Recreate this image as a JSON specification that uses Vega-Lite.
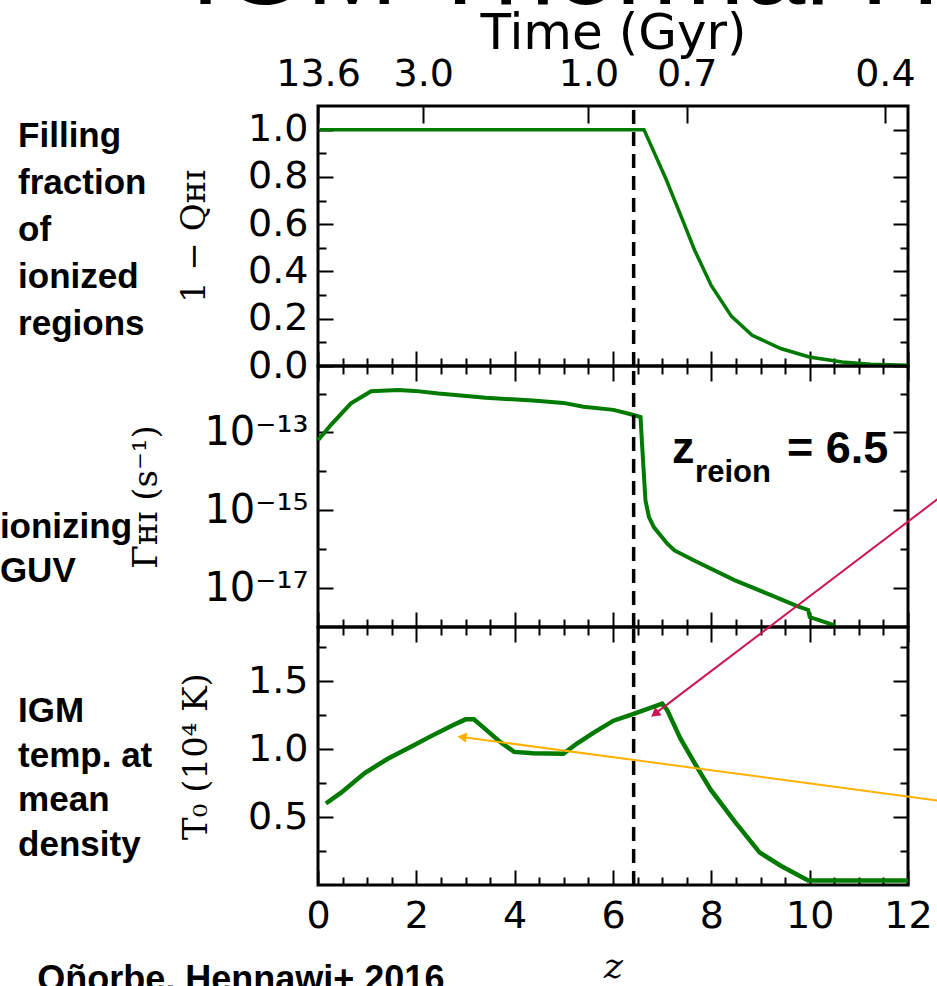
{
  "$schema": "https://vega.github.io/schema/vega-lite/v6.json",
  "autosize": {"type": "none"},
  "padding": {"left": 318, "top": 106, "right": 619, "bottom": 880},
  "background": "white",
  "spacing": 0,
  "bounds": "flush",
  "config": {
    "view": {"stroke": "black", "strokeWidth": 3},
    "axis": {"grid": false, "domain": false, "labelFont": "DejaVu Sans", "labelFontSize": 38, "labelColor": "black", "tickColor": "black", "tickWidth": 2, "titleColor": "black", "labelFlush": false, "labelOverlap": false, "titleFontWeight": "normal"}
  },
  "datasets": {
    "q": [{"z": 0.04, "v": 1.0}, {"z": 6.63, "v": 1.0}, {"z": 7.08, "v": 0.79}, {"z": 7.41, "v": 0.62}, {"z": 7.66, "v": 0.49}, {"z": 8.0, "v": 0.34}, {"z": 8.41, "v": 0.21}, {"z": 8.83, "v": 0.13}, {"z": 9.41, "v": 0.074}, {"z": 9.99, "v": 0.038}, {"z": 10.66, "v": 0.017}, {"z": 11.24, "v": 0.007}, {"z": 12.0, "v": 0.003}],
    "gamma": [{"z": 0.0, "v": 6.3e-14}, {"z": 0.26, "v": 1.55e-13}, {"z": 0.67, "v": 5.6e-13}, {"z": 1.08, "v": 1.15e-12}, {"z": 1.63, "v": 1.23e-12}, {"z": 1.97, "v": 1.17e-12}, {"z": 2.45, "v": 1.0e-12}, {"z": 3.41, "v": 7.8e-13}, {"z": 4.37, "v": 6.6e-13}, {"z": 4.99, "v": 5.75e-13}, {"z": 5.4, "v": 4.6e-13}, {"z": 6.01, "v": 3.8e-13}, {"z": 6.42, "v": 2.8e-13}, {"z": 6.56, "v": 2.5e-13}, {"z": 6.59, "v": 5.2e-14}, {"z": 6.66, "v": 1.8e-15}, {"z": 6.73, "v": 6.8e-16}, {"z": 6.83, "v": 3.7e-16}, {"z": 7.1, "v": 1.4e-16}, {"z": 7.25, "v": 9.3e-17}, {"z": 7.65, "v": 5.1e-17}, {"z": 8.47, "v": 1.6e-17}, {"z": 9.15, "v": 7.1e-18}, {"z": 9.76, "v": 3.4e-18}, {"z": 9.97, "v": 2.75e-18}, {"z": 10.0, "v": 1.8e-18}, {"z": 10.51, "v": 1.1e-18}],
    "t0": [{"z": 0.16, "v": 0.6}, {"z": 0.47, "v": 0.68}, {"z": 0.95, "v": 0.825}, {"z": 1.42, "v": 0.93}, {"z": 1.9, "v": 1.02}, {"z": 2.32, "v": 1.1}, {"z": 2.73, "v": 1.175}, {"z": 3.0, "v": 1.22}, {"z": 3.17, "v": 1.22}, {"z": 3.41, "v": 1.146}, {"z": 3.68, "v": 1.06}, {"z": 3.99, "v": 0.98}, {"z": 4.37, "v": 0.97}, {"z": 4.99, "v": 0.966}, {"z": 5.26, "v": 1.04}, {"z": 5.6, "v": 1.12}, {"z": 6.01, "v": 1.21}, {"z": 6.42, "v": 1.26}, {"z": 7.0, "v": 1.335}, {"z": 7.1, "v": 1.29}, {"z": 7.37, "v": 1.08}, {"z": 7.72, "v": 0.86}, {"z": 7.99, "v": 0.7}, {"z": 8.47, "v": 0.47}, {"z": 8.98, "v": 0.24}, {"z": 9.42, "v": 0.14}, {"z": 9.97, "v": 0.034}, {"z": 12.0, "v": 0.034}],
    "zreion": [{"z": 6.42}],
    "note1": [{"z": -6.1, "v": 0.926, "label": "Filling\nfraction\nof\nionized\nregions"}],
    "headline": [{"z": -2.6, "v": 1.53, "label": "IGM Thermal History"}],
    "note2": [{"z": -6.47, "v": 1.9e-16, "label": "ionizing\nGUV"}],
    "zlabel": [{"z": 7.2, "v": 1.62e-14, "label": "z"}, {"z": 9.54, "v": 1.62e-14, "label": "= 6.5"}],
    "zsub": [{"z": 7.67, "v": 5.2e-15, "label": "reion"}],
    "note3": [{"z": -6.1, "v": 1.2, "label": "IGM\ntemp. at\nmean\ndensity"}],
    "arrows": [{"arrow": "red", "z": 12.85, "v": 2.91, "z2": 6.85, "v2": 1.26}, {"arrow": "orange", "z": 12.85, "v": 0.61, "z2": 2.93, "v2": 1.09}],
    "credit": [{"z": -5.71, "v": -0.78, "label": "Oñorbe, Hennawi+ 2016"}]
  },
  "vconcat": [
    {
      "width": 590,
      "height": 260,
      "resolve": {"axis": {"x": "independent", "y": "independent"}},
      "layer": [
        {
          "data": {"name": "q"},
          "mark": {"type": "line", "color": "#007a00", "strokeWidth": 3.5},
          "encoding": {
            "x": {"field": "z", "type": "quantitative", "scale": {"domain": [0, 12], "nice": false, "zero": false}, "axis": {"orient": "bottom", "values": [0, 2, 4, 6, 8, 10, 12], "tickSize": -15, "labels": false, "title": null}},
            "y": {"field": "v", "type": "quantitative", "scale": {"domain": [0, 1.1], "nice": false, "zero": false}, "axis": {"orient": "left", "values": [0, 0.2, 0.4, 0.6, 0.8, 1.0], "tickSize": -15, "format": ".1f", "labelPadding": 25, "title": "1 − Qʜɪ", "titleFont": "DejaVu Serif", "titleFontSize": 34, "titlePadding": 36}}
          }
        },
        {
          "data": {"name": "zreion"},
          "mark": {"type": "rule", "color": "black", "strokeWidth": 3.5, "strokeDash": [14, 8]},
          "encoding": {
            "x": {"field": "z", "type": "quantitative", "scale": {"domain": [0, 12], "nice": false, "zero": false}, "axis": {"orient": "bottom", "values": [0.5, 1, 1.5, 2.5, 3, 3.5, 4.5, 5, 5.5, 6.5, 7, 7.5, 8.5, 9, 9.5, 10.5, 11, 11.5], "tickSize": -8, "labels": false, "title": null}},
            "y": {"datum": 0, "type": "quantitative", "scale": {"domain": [0, 1.1], "nice": false, "zero": false}, "axis": {"orient": "left", "values": [0.1, 0.3, 0.5, 0.7, 0.9], "tickSize": -8, "labels": false, "title": null}},
            "y2": {"datum": 1.1}
          }
        },
        {
          "data": {"name": "note1"},
          "mark": {"type": "text", "font": "Liberation Sans", "fontWeight": "bold", "fontSize": 35, "align": "left", "baseline": "alphabetic", "lineBreak": "\n", "lineHeight": 47, "color": "black"},
          "encoding": {
            "x": {"field": "z", "type": "quantitative", "scale": {"domain": [0, 12], "nice": false, "zero": false}, "axis": {"orient": "top", "values": [0, 2.14, 5.5, 7.5, 11.53], "tickSize": -17, "labelPadding": 30, "labelExpr": "datum.value < 1 ? '13.6' : datum.value < 3 ? '3.0' : datum.value < 6 ? '1.0' : datum.value < 9 ? '0.7' : '0.4'", "title": "Time (Gyr)", "titleFont": "DejaVu Sans", "titleFontSize": 50, "titlePadding": -3}},
            "y": {"field": "v", "type": "quantitative", "scale": {"domain": [0, 1.1], "nice": false, "zero": false}, "axis": {"orient": "right", "values": [0, 0.2, 0.4, 0.6, 0.8, 1.0], "tickSize": -15, "labels": false, "title": null}},
            "text": {"field": "label"}
          }
        },
        {
          "data": {"name": "headline"},
          "mark": {"type": "text", "font": "Liberation Sans", "fontSize": 110, "align": "left", "baseline": "alphabetic", "color": "black"},
          "encoding": {
            "x": {"field": "z", "type": "quantitative", "scale": {"domain": [0, 12], "nice": false, "zero": false}, "axis": null},
            "y": {"field": "v", "type": "quantitative", "scale": {"domain": [0, 1.1], "nice": false, "zero": false}, "axis": {"orient": "right", "values": [0.1, 0.3, 0.5, 0.7, 0.9], "tickSize": -8, "labels": false, "title": null}},
            "text": {"field": "label"}
          }
        }
      ]
    },
    {
      "width": 590,
      "height": 261,
      "resolve": {"axis": {"x": "independent", "y": "independent"}},
      "layer": [
        {
          "data": {"name": "gamma"},
          "mark": {"type": "line", "color": "#007a00", "strokeWidth": 4},
          "encoding": {
            "x": {"field": "z", "type": "quantitative", "scale": {"domain": [0, 12], "nice": false, "zero": false}, "axis": {"orient": "bottom", "values": [0, 2, 4, 6, 8, 10, 12], "tickSize": -15, "labels": false, "title": null}},
            "y": {"field": "v", "type": "quantitative", "scale": {"type": "log", "domain": [1e-18, 5.1e-12], "nice": false}, "axis": {"orient": "left", "values": [1e-13, 1e-15, 1e-17], "tickSize": -15, "labelPadding": 25, "labelFontSize": 40, "labelExpr": "round(log(datum.value)/LN10) == -13 ? '10⁻¹³' : round(log(datum.value)/LN10) == -15 ? '10⁻¹⁵' : '10⁻¹⁷'", "title": "Γʜɪ (s⁻¹)", "titleFont": "DejaVu Serif", "titleFontSize": 34, "titlePadding": 40}}
          }
        },
        {
          "data": {"name": "zreion"},
          "mark": {"type": "rule", "color": "black", "strokeWidth": 3.5, "strokeDash": [14, 8]},
          "encoding": {
            "x": {"field": "z", "type": "quantitative", "scale": {"domain": [0, 12], "nice": false, "zero": false}, "axis": {"orient": "bottom", "values": [0.5, 1, 1.5, 2.5, 3, 3.5, 4.5, 5, 5.5, 6.5, 7, 7.5, 8.5, 9, 9.5, 10.5, 11, 11.5], "tickSize": -8, "labels": false, "title": null}},
            "y": {"datum": 1e-18, "type": "quantitative", "scale": {"type": "log", "domain": [1e-18, 5.1e-12], "nice": false}, "axis": {"orient": "left", "values": [1e-12, 1e-14, 1e-16], "tickSize": -8, "labels": false, "title": null}},
            "y2": {"datum": 5.1e-12}
          }
        },
        {
          "data": {"name": "note2"},
          "mark": {"type": "text", "font": "Liberation Sans", "fontWeight": "bold", "fontSize": 35, "align": "left", "baseline": "alphabetic", "lineBreak": "\n", "lineHeight": 44, "color": "black"},
          "encoding": {
            "x": {"field": "z", "type": "quantitative", "scale": {"domain": [0, 12], "nice": false, "zero": false}, "axis": {"orient": "top", "values": [0, 2, 4, 6, 8, 10, 12], "tickSize": -15, "labels": false, "title": null}},
            "y": {"field": "v", "type": "quantitative", "scale": {"type": "log", "domain": [1e-18, 5.1e-12], "nice": false}, "axis": {"orient": "right", "values": [1e-13, 1e-15, 1e-17], "tickSize": -15, "labels": false, "title": null}},
            "text": {"field": "label"}
          }
        },
        {
          "data": {"name": "zlabel"},
          "mark": {"type": "text", "font": "Liberation Sans", "fontWeight": "bold", "fontSize": 45, "align": "left", "baseline": "alphabetic", "color": "black"},
          "encoding": {
            "x": {"field": "z", "type": "quantitative", "scale": {"domain": [0, 12], "nice": false, "zero": false}, "axis": {"orient": "top", "values": [0.5, 1, 1.5, 2.5, 3, 3.5, 4.5, 5, 5.5, 6.5, 7, 7.5, 8.5, 9, 9.5, 10.5, 11, 11.5], "tickSize": -8, "labels": false, "title": null}},
            "y": {"field": "v", "type": "quantitative", "scale": {"type": "log", "domain": [1e-18, 5.1e-12], "nice": false}, "axis": {"orient": "right", "values": [1e-12, 1e-14, 1e-16], "tickSize": -8, "labels": false, "title": null}},
            "text": {"field": "label"}
          }
        },
        {
          "data": {"name": "zsub"},
          "mark": {"type": "text", "font": "Liberation Sans", "fontWeight": "bold", "fontSize": 31, "align": "left", "baseline": "alphabetic", "color": "black"},
          "encoding": {
            "x": {"field": "z", "type": "quantitative", "scale": {"domain": [0, 12], "nice": false, "zero": false}, "axis": null},
            "y": {"field": "v", "type": "quantitative", "scale": {"type": "log", "domain": [1e-18, 5.1e-12], "nice": false}, "axis": null},
            "text": {"field": "label"}
          }
        }
      ]
    },
    {
      "width": 590,
      "height": 258,
      "resolve": {"axis": {"x": "independent", "y": "independent"}},
      "layer": [
        {
          "data": {"name": "t0"},
          "mark": {"type": "line", "color": "#007a00", "strokeWidth": 4.5},
          "encoding": {
            "x": {"field": "z", "type": "quantitative", "scale": {"domain": [0, 12], "nice": false, "zero": false}, "axis": {"orient": "bottom", "values": [0, 2, 4, 6, 8, 10, 12], "tickSize": -15, "labelPadding": 27, "format": "d", "title": "z", "titleFont": "DejaVu Serif", "titleFontStyle": "italic", "titleFontSize": 36, "titlePadding": 14}},
            "y": {"field": "v", "type": "quantitative", "scale": {"domain": [0, 1.9], "nice": false, "zero": false}, "axis": {"orient": "left", "values": [0.5, 1.0, 1.5], "tickSize": -15, "format": ".1f", "labelPadding": 25, "title": "T₀ (10⁴ K)", "titleFont": "DejaVu Serif", "titleFontSize": 34, "titlePadding": 34}}
          }
        },
        {
          "data": {"name": "zreion"},
          "mark": {"type": "rule", "color": "black", "strokeWidth": 3.5, "strokeDash": [14, 8]},
          "encoding": {
            "x": {"field": "z", "type": "quantitative", "scale": {"domain": [0, 12], "nice": false, "zero": false}, "axis": {"orient": "bottom", "values": [0.5, 1, 1.5, 2.5, 3, 3.5, 4.5, 5, 5.5, 6.5, 7, 7.5, 8.5, 9, 9.5, 10.5, 11, 11.5], "tickSize": -8, "labels": false, "title": null}},
            "y": {"datum": 0, "type": "quantitative", "scale": {"domain": [0, 1.9], "nice": false, "zero": false}, "axis": {"orient": "left", "values": [0.25, 0.75, 1.25, 1.75], "tickSize": -8, "labels": false, "title": null}},
            "y2": {"datum": 1.9}
          }
        },
        {
          "data": {"name": "note3"},
          "mark": {"type": "text", "font": "Liberation Sans", "fontWeight": "bold", "fontSize": 35, "align": "left", "baseline": "alphabetic", "lineBreak": "\n", "lineHeight": 44.5, "color": "black"},
          "encoding": {
            "x": {"field": "z", "type": "quantitative", "scale": {"domain": [0, 12], "nice": false, "zero": false}, "axis": {"orient": "top", "values": [0, 2, 4, 6, 8, 10, 12], "tickSize": -15, "labels": false, "title": null}},
            "y": {"field": "v", "type": "quantitative", "scale": {"domain": [0, 1.9], "nice": false, "zero": false}, "axis": {"orient": "right", "values": [0.5, 1.0, 1.5], "tickSize": -15, "labels": false, "title": null}},
            "text": {"field": "label"}
          }
        },
        {
          "data": {"name": "arrows"},
          "mark": {"type": "rule", "strokeWidth": 2},
          "encoding": {
            "x": {"field": "z", "type": "quantitative", "scale": {"domain": [0, 12], "nice": false, "zero": false}, "axis": {"orient": "top", "values": [0.5, 1, 1.5, 2.5, 3, 3.5, 4.5, 5, 5.5, 6.5, 7, 7.5, 8.5, 9, 9.5, 10.5, 11, 11.5], "tickSize": -8, "labels": false, "title": null}},
            "y": {"field": "v", "type": "quantitative", "scale": {"domain": [0, 1.9], "nice": false, "zero": false}, "axis": {"orient": "right", "values": [0.25, 0.75, 1.25, 1.75], "tickSize": -8, "labels": false, "title": null}},
            "x2": {"field": "z2"},
            "y2": {"field": "v2"},
            "color": {"field": "arrow", "type": "nominal", "scale": {"domain": ["red", "orange"], "range": ["#cc1650", "#ffb000"]}, "legend": null}
          }
        },
        {
          "data": {"name": "arrows"},
          "transform": [{"filter": "datum.arrow == 'red'"}],
          "mark": {"type": "point", "shape": "triangle-up", "filled": true, "size": 110, "angle": 232.8, "opacity": 1},
          "encoding": {
            "x": {"field": "z2", "type": "quantitative", "scale": {"domain": [0, 12], "nice": false, "zero": false}, "axis": null},
            "y": {"field": "v2", "type": "quantitative", "scale": {"domain": [0, 1.9], "nice": false, "zero": false}, "axis": null},
            "color": {"field": "arrow", "type": "nominal", "scale": {"domain": ["red", "orange"], "range": ["#cc1650", "#ffb000"]}, "legend": null}
          }
        },
        {
          "data": {"name": "arrows"},
          "transform": [{"filter": "datum.arrow == 'orange'"}],
          "mark": {"type": "point", "shape": "triangle-up", "filled": true, "size": 110, "angle": 277.6, "opacity": 1},
          "encoding": {
            "x": {"field": "z2", "type": "quantitative", "scale": {"domain": [0, 12], "nice": false, "zero": false}, "axis": null},
            "y": {"field": "v2", "type": "quantitative", "scale": {"domain": [0, 1.9], "nice": false, "zero": false}, "axis": null},
            "color": {"field": "arrow", "type": "nominal", "scale": {"domain": ["red", "orange"], "range": ["#cc1650", "#ffb000"]}, "legend": null}
          }
        },
        {
          "data": {"name": "credit"},
          "mark": {"type": "text", "font": "Liberation Sans", "fontWeight": "bold", "fontSize": 36, "align": "left", "baseline": "alphabetic", "color": "black"},
          "encoding": {
            "x": {"field": "z", "type": "quantitative", "scale": {"domain": [0, 12], "nice": false, "zero": false}, "axis": null},
            "y": {"field": "v", "type": "quantitative", "scale": {"domain": [0, 1.9], "nice": false, "zero": false}, "axis": null},
            "text": {"field": "label"}
          }
        }
      ]
    }
  ]
}
